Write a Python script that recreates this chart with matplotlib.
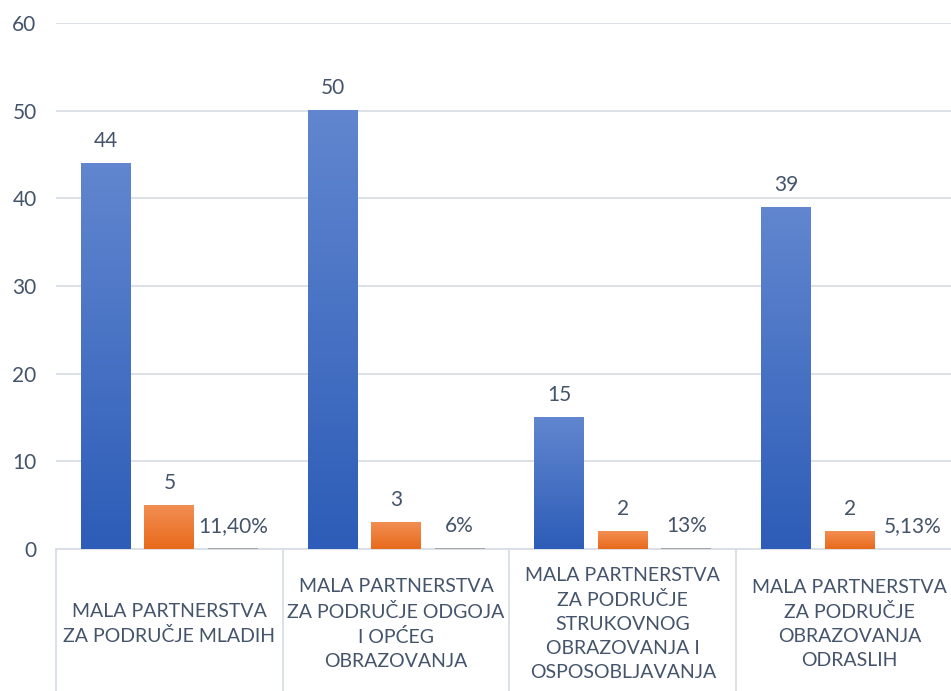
import numpy as np
import matplotlib
matplotlib.use("Agg")
import matplotlib.pyplot as plt
import matplotlib.transforms as mtransforms

categories = [
    "MALA PARTNERSTVA\nZA PODRUČJE MLADIH",
    "MALA PARTNERSTVA\nZA PODRUČJE ODGOJA\nI OPĆEG\nOBRAZOVANJA",
    "MALA PARTNERSTVA\nZA PODRUČJE\nSTRUKOVNOG\nOBRAZOVANJA I\nOSPOSOBLJAVANJA",
    "MALA PARTNERSTVA\nZA PODRUČJE\nOBRAZOVANJA\nODRASLIH",
]
prijave = [44, 50, 15, 39]
odobreno = [5, 3, 2, 2]
postotak = [0.114, 0.06, 0.13, 0.0513]
postotak_lbl = ["11,40%", "6%", "13%", "5,13%"]
yticks = [0, 10, 20, 30, 40, 50, 60]

txt = "#44546A"
grid_c = "#D9DDE5"
plt.rcParams['font.family'] = ['Lato', 'DejaVu Sans']

fig = plt.figure(figsize=(9.51, 6.91), dpi=100)
ax = fig.add_axes([56/951, 142/691, 907/951, 526/691])

x = np.arange(len(categories))
w = 0.22
off = 0.28


def grad_bars(xs, vals, top, bottom):
    bars = ax.bar(xs, vals, w, color="none", edgecolor="none", zorder=3)
    cmap = matplotlib.colors.LinearSegmentedColormap.from_list("g", [bottom, top])
    grad = np.linspace(0, 1, 100).reshape(-1, 1)
    for b in bars:
        x0, y0 = b.get_x(), b.get_y()
        ax.imshow(grad, cmap=cmap, aspect="auto", origin="lower",
                  extent=[x0, x0 + b.get_width(), y0, y0 + b.get_height()], zorder=3)
    return bars


grad_bars(x - off, prijave, "#6186CF", "#2D5DB8")
grad_bars(x, odobreno, "#F28E52", "#E86A1C")
ax.bar(x + off, postotak, w, color="#A5A5A5", zorder=3)

for i in range(len(x)):
    ax.annotate(str(prijave[i]), (x[i] - off, prijave[i]), xytext=(0, 16), textcoords="offset points",
                ha="center", va="center", fontsize=15, color=txt)
    ax.annotate(str(odobreno[i]), (x[i], odobreno[i]), xytext=(0, 16), textcoords="offset points",
                ha="center", va="center", fontsize=15, color=txt)
    ax.annotate(postotak_lbl[i], (x[i] + off, postotak[i]), xytext=(0, 16), textcoords="offset points",
                ha="center", va="center", fontsize=15, color=txt)

ax.set_xlim(-0.5, 3.5)
ax.set_ylim(0, 60)
ax.set_yticks(yticks)
ax.set_xticks([])
ax.tick_params(axis="y", length=0, pad=14, labelsize=15, labelcolor=txt)
ax.grid(axis="y", color=grid_c, linewidth=1.3, zorder=0)
ax.set_axisbelow(True)
for s in ["top", "right", "left"]:
    ax.spines[s].set_visible(False)
ax.spines["bottom"].set_color(grid_c)
ax.spines["bottom"].set_linewidth(1.3)

trans = mtransforms.blended_transform_factory(ax.transData, ax.transAxes)
for b in np.arange(-0.5, 4.0, 1.0):
    ax.plot([b, b], [0, -0.3], transform=trans, color=grid_c, linewidth=1.3, clip_on=False)
for i, c in enumerate(categories):
    ax.text(x[i], -0.1426, c, transform=trans, ha="center", va="center", fontsize=14,
            color=txt, linespacing=1.5)

fig.savefig("out.png", dpi=100)
